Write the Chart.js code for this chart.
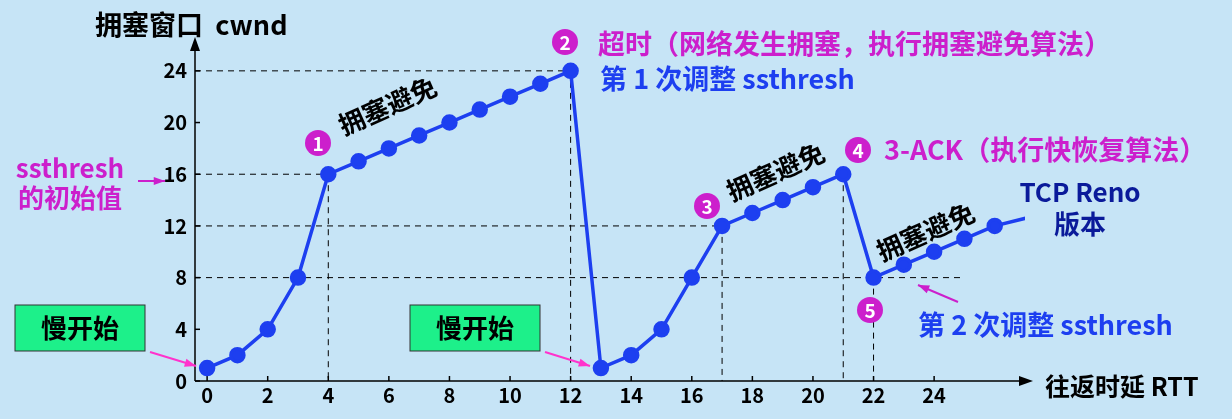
<!DOCTYPE html>
<html><head><meta charset="utf-8">
<script src="https://cdn.jsdelivr.net/npm/chart.js@4"></script>
<style>html,body{margin:0;padding:0;background:#c6e4f6;}#w{width:1232px;height:419px;}</style>
</head><body><div id="w"><canvas id="c"></canvas></div>
<script>
const rtt = [0,1,2,3,4,5,6,7,8,9,10,11,12,13,14,15,16,17,18,19,20,21,22,23,24,25,26];
const cwnd = [1,2,4,8,16,17,18,19,20,21,22,23,24,1,2,4,8,12,13,14,15,16,8,9,10,11,12];
const xTicks = [0,2,4,6,8,10,12,14,16,18,20,22,24];
const yTicks = [0,4,8,12,16,20,24];
const hDash = [[24,12],[16,4],[12,17],[8,25]];
const vDash = [[4,16],[12,24],[17,12],[21,16],[22,8]];
const F = '"Noto Sans CJK SC","Noto Sans",sans-serif';
const BLUE='#1d3ff0', MAG='#cc1fcc', NAVY='#0a1a9a';

const deco = {
  id:'deco',
  beforeDatasetsDraw(ch){
    const c=ch.ctx,x=ch.scales.x,y=ch.scales.y;
    c.save();
    c.strokeStyle='#000';c.lineWidth=1;c.setLineDash([6,5]);
    hDash.forEach(([v,e])=>{c.beginPath();c.moveTo(x.left,y.getPixelForValue(v));c.lineTo(x.getPixelForValue(e),y.getPixelForValue(v));c.stroke();});
    vDash.forEach(([v,t])=>{c.beginPath();c.moveTo(x.getPixelForValue(v),y.getPixelForValue(t));c.lineTo(x.getPixelForValue(v),y.bottom);c.stroke();});
    c.setLineDash([]);c.lineWidth=1.5;
    c.beginPath();c.moveTo(x.left,y.bottom);c.lineTo(x.right,y.bottom);c.moveTo(x.left,y.bottom);c.lineTo(x.left,y.top);c.stroke();
    c.fillStyle='#000';
    c.beginPath();c.moveTo(x.right+8,y.bottom);c.lineTo(x.right-6,y.bottom-5);c.lineTo(x.right-6,y.bottom+5);c.fill();
    c.beginPath();c.moveTo(x.left,y.top-8);c.lineTo(x.left-5,y.top+6);c.lineTo(x.left+5,y.top+6);c.fill();
    c.font='bold 20px '+F;c.textAlign='center';c.textBaseline='top';
    xTicks.forEach(v=>{const p=x.getPixelForValue(v);c.beginPath();c.moveTo(p,y.bottom);c.lineTo(p,y.bottom-5);c.stroke();c.fillText(String(v),p,y.bottom+4);});
    c.textAlign='right';c.textBaseline='middle';
    yTicks.forEach(v=>{const p=y.getPixelForValue(v);c.beginPath();c.moveTo(x.left,p);c.lineTo(x.left+5,p);c.stroke();c.fillText(String(v),x.left-8,p);});
    c.restore();
  },
  afterDatasetsDraw(ch){
    const c=ch.ctx;c.save();
    const t=(s,px,py,col,sz,al,rot)=>{c.save();c.translate(px,py);if(rot)c.rotate(rot);c.fillStyle=col;c.font='bold '+sz+'px '+F;c.textAlign=al||'left';c.textBaseline='middle';c.fillText(s,0,0);c.restore();};
    const circ=(n,px,py)=>{c.fillStyle=MAG;c.beginPath();c.arc(px,py,13,0,Math.PI*2);c.fill();t(n,px,py+1,'#fff',19,'center');};
    const arrow=(x1,y1,x2,y2,col)=>{c.strokeStyle=col;c.fillStyle=col;c.lineWidth=2;c.beginPath();c.moveTo(x1,y1);c.lineTo(x2,y2);c.stroke();const a=Math.atan2(y2-y1,x2-x1);c.beginPath();c.moveTo(x2,y2);c.lineTo(x2-12*Math.cos(a-0.35),y2-12*Math.sin(a-0.35));c.lineTo(x2-12*Math.cos(a+0.35),y2-12*Math.sin(a+0.35));c.fill();};
    t('拥塞窗口  cwnd',95,25,'#000',27);
    t('往返时延 RTT',1045,386,'#000',25);
    circ('2',565,42);t('超时（网络发生拥塞，执行拥塞避免算法）',598,44,MAG,27);
    t('第 1 次调整 ssthresh',600,79,BLUE,27);
    circ('1',318,143);t('拥塞避免',340,127,'#000',26,'left',-0.42);
    t('ssthresh',70,168,MAG,26,'center');t('的初始值',70,198,MAG,26,'center');
    arrow(138,181,165,181,MAG);
    circ('3',707,206);t('拥塞避免',728,193,'#000',26,'left',-0.42);
    circ('4',858,150);t('3-ACK（执行快恢复算法）',884,150,MAG,27);
    t('TCP Reno',1080,192,NAVY,26,'center');t('版本',1080,224,NAVY,26,'center');
    t('拥塞避免',878,253,'#000',26,'left',-0.42);
    circ('5',870,310);
    t('第 2 次调整 ssthresh',918,325,BLUE,27);
    arrow(958,302,918,285,MAG);
    [[15,305],[410,305]].forEach(([bx,by])=>{c.fillStyle='#1df08a';c.fillRect(bx,by,130,46);c.strokeStyle='#333';c.lineWidth=1;c.strokeRect(bx,by,130,46);t('慢开始',bx+65,by+23,'#000',26,'center');});
    arrow(150,352,196,366,'#ff33cc');
    arrow(545,352,590,366,'#ff33cc');
    c.restore();
  }
};

new Chart(document.getElementById('c'),{
  type:'line',
  data:{labels:rtt,datasets:[
    {data:rtt.map((v,i)=>({x:v,y:cwnd[i]})),borderColor:BLUE,backgroundColor:BLUE,borderWidth:3.5,pointRadius:6.5,pointBackgroundColor:BLUE,pointBorderColor:BLUE,tension:0},
    {data:[{x:26,y:12},{x:27.2,y:12.7}],borderColor:BLUE,borderWidth:3.5,pointRadius:0}
  ]},
  options:{animation:false,responsive:true,maintainAspectRatio:false,devicePixelRatio:1,
    layout:{padding:{left:195,right:207,top:45,bottom:38}},
    plugins:{legend:{display:false},tooltip:{enabled:false}},
    scales:{x:{type:'linear',min:-0.4,max:27,display:false},y:{min:0,max:26,display:false}}},
  plugins:[deco]
});
</script></body></html>
